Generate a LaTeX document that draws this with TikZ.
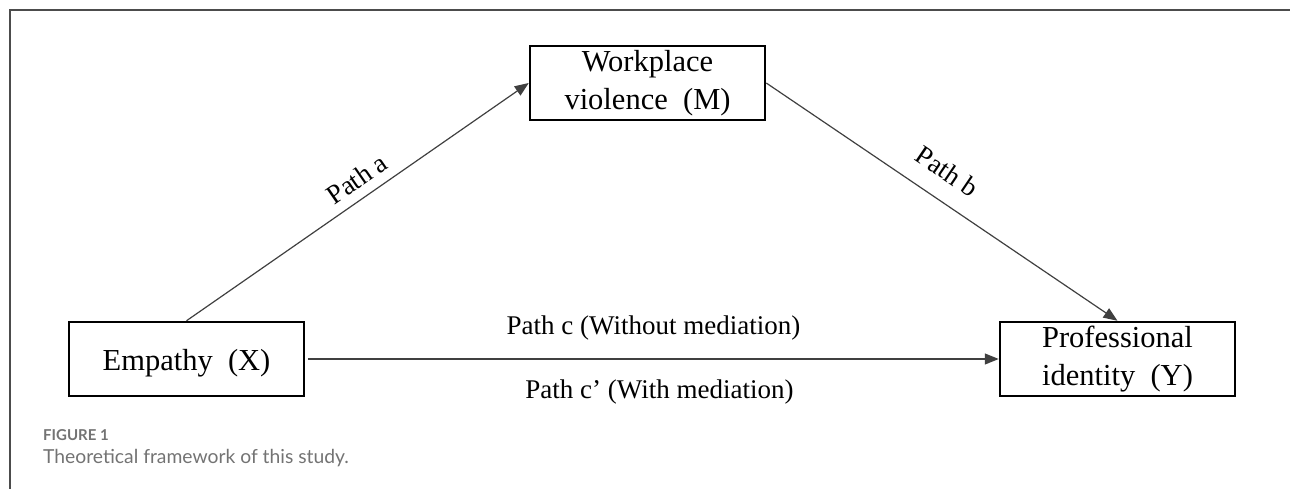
\documentclass[tikz,border=0pt]{standalone}
\usepackage{fontspec}
\setmainfont{Liberation Serif}
\newfontfamily\capfont{Lato}
\usetikzlibrary{arrows.meta}

\begin{document}
\begin{tikzpicture}[x=1pt,y=-1pt,
    box/.style={draw,line width=2.5pt,minimum width=235pt,minimum height=74pt,
        inner sep=0pt,align=center,font=\fontsize{30.5}{38}\selectfont},
    pathline/.style={-{Triangle[length=14pt,width=11pt]},draw=black!75,line width=1.2pt},
    lbl/.style={font=\fontsize{27}{30}\selectfont},
    caption/.style={anchor=base west,inner sep=0pt,text=black!55}]
    \useasboundingbox (0,0) rectangle (1290,489);
    \draw[black!70,line width=1.5pt] (10,489) -- (10,10) -- (1290,10);
    \node[box,text height=30pt] (x) at (186.5,359) {Empathy\ \ (X)};
    \node[box] (m) at (647.5,83) {Workplace\\violence\ \ (M)};
    \node[box] (y) at (1117.5,359) {Professional\\identity\ \ (Y)};
    \draw[pathline] (x.north) -- node[lbl,sloped,above=6pt,pos=0.53] {Path a} (m.west);
    \draw[pathline] (m.east) -- node[lbl,sloped,above=15pt,pos=0.47] {Path b} (y.north);
    \draw[pathline] ([xshift=3pt]x.east) --
        node[lbl,above=15pt] {Path c (Without mediation)}
        node[lbl,below=17pt,xshift=6pt] {Path c’ (With mediation)} (y.west);
    \node[caption,font=\capfont\bfseries\fontsize{15}{17}\selectfont] (fig) at (43,440) {FIGURE 1};
    \node[caption,font=\capfont\fontsize{19.3}{21}\selectfont] (cap) at (43,463) {Theoretical framework of this study.};
\end{tikzpicture}
\end{document}
